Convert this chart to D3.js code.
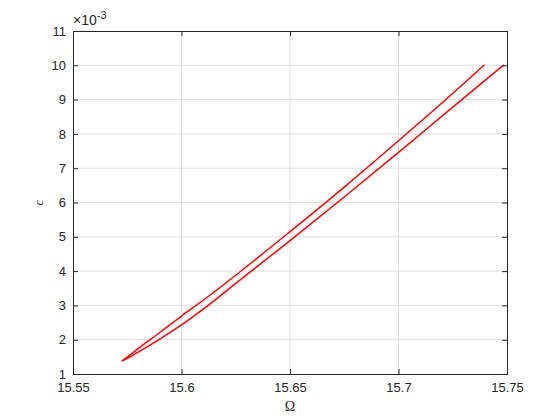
<!DOCTYPE html>
<html>
<head>
<meta charset="utf-8">
<script src="https://cdn.jsdelivr.net/npm/d3@7"></script>
<style>
  body { margin: 0; background: #fff; }
  svg { display: block; }
  .tick text { font-family: "Liberation Sans", Arial, sans-serif; font-size: 13px; fill: #262626; }
</style>
</head>
<body>
<svg id="graph" width="560" height="420"></svg>
<script>
// branch values (c in absolute units)
const upperOmega = [15.5728, 15.575, 15.58, 15.59, 15.6, 15.61, 15.625, 15.65, 15.675, 15.7, 15.72, 15.7394];
const upperC     = [0.00139, 0.00149, 0.00174, 0.00221, 0.00269, 0.00315, 0.00388, 0.00515, 0.00645, 0.00780, 0.00890, 0.01000];
const lowerOmega = [15.5728, 15.575, 15.58, 15.59, 15.6, 15.61, 15.625, 15.65, 15.675, 15.7, 15.725, 15.7483];
const lowerC     = [0.00139, 0.00146, 0.00164, 0.00202, 0.00243, 0.00289, 0.00364, 0.00489, 0.00616, 0.00746, 0.00878, 0.01000];

const xTicks = [15.55, 15.6, 15.65, 15.7, 15.75];
const yTicks = [0.001, 0.002, 0.003, 0.004, 0.005, 0.006, 0.007, 0.008, 0.009, 0.010, 0.011];

const pLeft = 73, pRight = 507, pTop = 31, pBottom = 374;
const tickLen = 5;
const axisColor = '#262626';

const svg = d3.select('#graph');

const xScale = d3.scaleLinear().domain([15.55, 15.75]).range([pLeft, pRight]);
const yScale = d3.scaleLinear().domain([0.001, 0.011]).range([pBottom, pTop]);

// grid
svg.append('g').selectAll('line').data(xTicks.slice(1, -1)).join('line')
  .attr('x1', d => xScale(d)).attr('x2', d => xScale(d))
  .attr('y1', pTop).attr('y2', pBottom)
  .attr('stroke', '#dfdfdf').attr('stroke-width', 1);
svg.append('g').selectAll('line').data(yTicks.slice(1, -1)).join('line')
  .attr('y1', d => yScale(d)).attr('y2', d => yScale(d))
  .attr('x1', pLeft).attr('x2', pRight)
  .attr('stroke', '#dfdfdf').attr('stroke-width', 1);

// curves
const line = d3.line()
  .x(d => xScale(d[0]))
  .y(d => yScale(d[1]))
  .curve(d3.curveMonotoneX);

const upper = upperOmega.map((o, i) => [o, upperC[i]]);
const lower = lowerOmega.map((o, i) => [o, lowerC[i]]);

[upper, lower].forEach(pts => {
  svg.append('path')
    .datum(pts)
    .attr('d', line)
    .attr('fill', 'none')
    .attr('stroke', '#ff0000')
    .attr('stroke-width', 1.5)
    .attr('stroke-linejoin', 'round')
    .attr('stroke-linecap', 'round');
});

// axes (ticks inward, box on)
const fmtY = d => Math.round(d * 1000);
const xAxis = d3.axisBottom(xScale).tickValues(xTicks).tickSize(-tickLen).tickPadding(9).tickFormat(d => d3.format('')(d));
const xAxisTop = d3.axisTop(xScale).tickValues(xTicks).tickSize(-tickLen).tickFormat('');
const yAxis = d3.axisLeft(yScale).tickValues(yTicks).tickSize(-tickLen).tickPadding(7).tickFormat(fmtY);
const yAxisRight = d3.axisRight(yScale).tickValues(yTicks).tickSize(-tickLen).tickFormat('');

function styleAxis(g) {
  g.select('.domain').attr('stroke', axisColor);
  g.selectAll('.tick line').attr('stroke', axisColor);
}

svg.append('g').attr('transform', `translate(0,${pBottom})`).call(xAxis).call(styleAxis);
svg.append('g').attr('transform', `translate(0,${pTop})`).call(xAxisTop).call(styleAxis);
svg.append('g').attr('transform', `translate(${pLeft},0)`).call(yAxis).call(styleAxis);
svg.append('g').attr('transform', `translate(${pRight},0)`).call(yAxisRight).call(styleAxis);

// exponent label
const expo = svg.append('text')
  .attr('x', pLeft).attr('y', pTop - 6)
  .attr('font-family', '"Liberation Sans", Arial, sans-serif')
  .attr('font-size', 14)
  .attr('fill', axisColor);
expo.append('tspan').text('\u00d710');
expo.append('tspan').attr('dy', -6).attr('font-size', 11).text('-3');

// axis labels
svg.append('text')
  .attr('x', (pLeft + pRight) / 2).attr('y', 411)
  .attr('text-anchor', 'middle')
  .attr('font-family', '"Liberation Serif", "Times New Roman", serif')
  .attr('font-size', 14)
  .attr('fill', axisColor)
  .text('\u03a9');

svg.append('text')
  .attr('transform', `translate(43,${(pTop + pBottom) / 2}) rotate(-90)`)
  .attr('text-anchor', 'middle')
  .attr('font-family', '"Liberation Serif", "Times New Roman", serif')
  .attr('font-style', 'italic')
  .attr('font-size', 13)
  .attr('fill', axisColor)
  .text('c');
</script>
</body>
</html>
